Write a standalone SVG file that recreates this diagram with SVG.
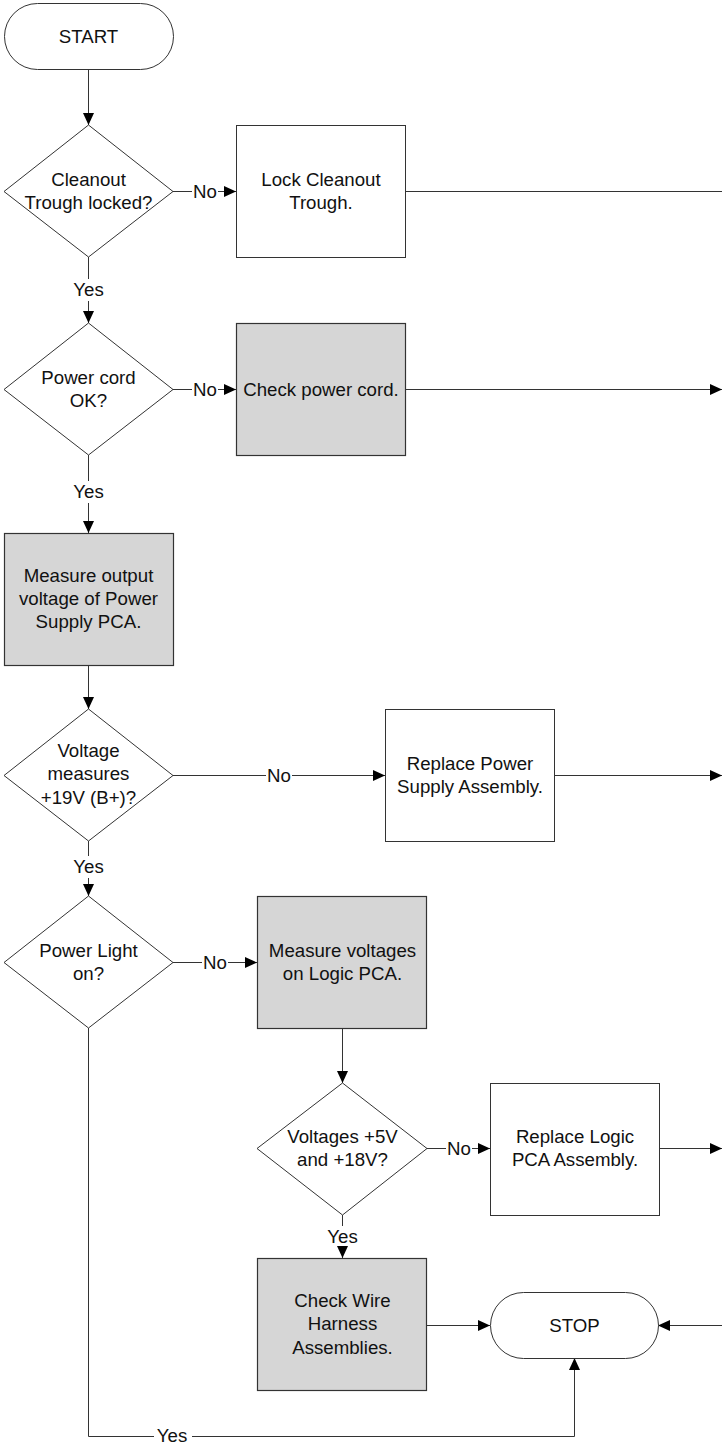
<svg xmlns="http://www.w3.org/2000/svg" width="722" height="1445" viewBox="0 0 722 1445">
<defs>
<marker id="ah" markerUnits="userSpaceOnUse" markerWidth="12" markerHeight="11" refX="12" refY="5.5" orient="auto">
<path d="M0,0 L12,5.5 L0,11 z" fill="#000"/>
</marker>
<style>
.n{fill:#fff;stroke:#333;stroke-width:1}
.g{fill:#d6d6d6;stroke:#333;stroke-width:1.2}
.t{font-family:"Liberation Sans",Arial,sans-serif;font-size:18.67px;fill:#111;text-anchor:middle}
.c line,.c polyline{stroke:#333;stroke-width:1;fill:none}
.a{marker-end:url(#ah)}
</style>
</defs>
<rect width="722" height="1445" fill="#fff"/>
<g class="c" id="connectors">
<line class="a" x1="88.5" y1="69" x2="88.5" y2="125"/>
<line x1="173" y1="191.5" x2="192" y2="191.5"/>
<line class="a" x1="218" y1="191.5" x2="236" y2="191.5"/>
<line x1="406" y1="191.5" x2="722" y2="191.5"/>
<line x1="88.5" y1="257" x2="88.5" y2="279"/>
<line class="a" x1="88.5" y1="301" x2="88.5" y2="323"/>
<line x1="173" y1="389.5" x2="192" y2="389.5"/>
<line class="a" x1="218" y1="389.5" x2="236" y2="389.5"/>
<line class="a" x1="406" y1="389.5" x2="722" y2="389.5"/>
<line x1="88.5" y1="455" x2="88.5" y2="481"/>
<line class="a" x1="88.5" y1="503" x2="88.5" y2="533"/>
<line class="a" x1="88.5" y1="665" x2="88.5" y2="709"/>
<line x1="173" y1="775.5" x2="266" y2="775.5"/>
<line class="a" x1="292" y1="775.5" x2="385" y2="775.5"/>
<line class="a" x1="554" y1="775.5" x2="722" y2="775.5"/>
<line x1="88.5" y1="841" x2="88.5" y2="856"/>
<line class="a" x1="88.5" y1="878" x2="88.5" y2="896"/>
<line x1="173" y1="962.5" x2="202" y2="962.5"/>
<line class="a" x1="228" y1="962.5" x2="257" y2="962.5"/>
<line class="a" x1="342.5" y1="1028" x2="342.5" y2="1083"/>
<line x1="427" y1="1148.5" x2="446" y2="1148.5"/>
<line class="a" x1="472" y1="1148.5" x2="490" y2="1148.5"/>
<line class="a" x1="659" y1="1148.5" x2="722" y2="1148.5"/>
<line x1="342.5" y1="1215" x2="342.5" y2="1226"/>
<line class="a" x1="342.5" y1="1248" x2="342.5" y2="1258"/>
<line class="a" x1="427" y1="1325.5" x2="490" y2="1325.5"/>
<line class="a" x1="722" y1="1325.5" x2="658" y2="1325.5"/>
<polyline points="88.5,1028 88.5,1436.5 154,1436.5"/>
<polyline class="a" points="192,1436.5 574.5,1436.5 574.5,1358"/>
<text class="t" x="205" y="198">No</text>
<text class="t" x="205" y="396">No</text>
<text class="t" x="279" y="782">No</text>
<text class="t" x="215" y="969">No</text>
<text class="t" x="459" y="1155">No</text>
<text class="t" x="88.5" y="296">Yes</text>
<text class="t" x="88.5" y="498">Yes</text>
<text class="t" x="88.5" y="873">Yes</text>
<text class="t" x="342.5" y="1243">Yes</text>
<text class="t" x="172" y="1442">Yes</text>
</g>
<g id="start">
<rect class="n" x="4.5" y="3.5" width="169" height="66" rx="33" ry="33"/>
<text class="t" x="88.5" y="43">START</text>
</g>
<g id="d1">
<polygon class="n" points="88.5,125 173,191.5 88.5,257 4,191.5"/>
<text class="t" x="88.5" y="186">Cleanout</text>
<text class="t" x="88.5" y="209">Trough locked?</text>
</g>
<g id="lock">
<rect class="n" x="236.5" y="125.5" width="169" height="132"/>
<text class="t" x="321" y="186">Lock Cleanout</text>
<text class="t" x="321" y="209">Trough.</text>
</g>
<g id="d2">
<polygon class="n" points="88.5,323 173,389.5 88.5,455 4,389.5"/>
<text class="t" x="88.5" y="384">Power cord</text>
<text class="t" x="88.5" y="407">OK?</text>
</g>
<g id="checkcord">
<rect class="g" x="236.5" y="323.5" width="169" height="132"/>
<text class="t" x="321" y="396">Check power cord.</text>
</g>
<g id="measureout">
<rect class="g" x="4.5" y="533.5" width="169" height="132"/>
<text class="t" x="88.5" y="582">Measure output</text>
<text class="t" x="88.5" y="605">voltage of Power</text>
<text class="t" x="88.5" y="628">Supply PCA.</text>
</g>
<g id="d3">
<polygon class="n" points="88.5,709 173,775.5 88.5,841 4,775.5"/>
<text class="t" x="88.5" y="757">Voltage</text>
<text class="t" x="88.5" y="780">measures</text>
<text class="t" x="88.5" y="804">+19V (B+)?</text>
</g>
<g id="replaceps">
<rect class="n" x="385.5" y="709.5" width="169" height="132"/>
<text class="t" x="470" y="770">Replace Power</text>
<text class="t" x="470" y="793">Supply Assembly.</text>
</g>
<g id="d4">
<polygon class="n" points="88.5,896 173,962.5 88.5,1028 4,962.5"/>
<text class="t" x="88.5" y="957">Power Light</text>
<text class="t" x="88.5" y="980">on?</text>
</g>
<g id="measurelogic">
<rect class="g" x="257.5" y="896.5" width="169" height="132"/>
<text class="t" x="342.5" y="957">Measure voltages</text>
<text class="t" x="342.5" y="980">on Logic PCA.</text>
</g>
<g id="d5">
<polygon class="n" points="342.5,1083 427,1148.5 342.5,1215 257,1148.5"/>
<text class="t" x="342.5" y="1143">Voltages +5V</text>
<text class="t" x="342.5" y="1166">and +18V?</text>
</g>
<g id="replacelogic">
<rect class="n" x="490.5" y="1083.5" width="169" height="132"/>
<text class="t" x="575" y="1143">Replace Logic</text>
<text class="t" x="575" y="1166">PCA Assembly.</text>
</g>
<g id="checkwire">
<rect class="g" x="257.5" y="1258.5" width="169" height="132"/>
<text class="t" x="342.5" y="1307">Check Wire</text>
<text class="t" x="342.5" y="1330">Harness</text>
<text class="t" x="342.5" y="1354">Assemblies.</text>
</g>
<g id="stop">
<rect class="n" x="490.5" y="1292.5" width="168" height="66" rx="33" ry="33"/>
<text class="t" x="574.5" y="1332">STOP</text>
</g>
</svg>
